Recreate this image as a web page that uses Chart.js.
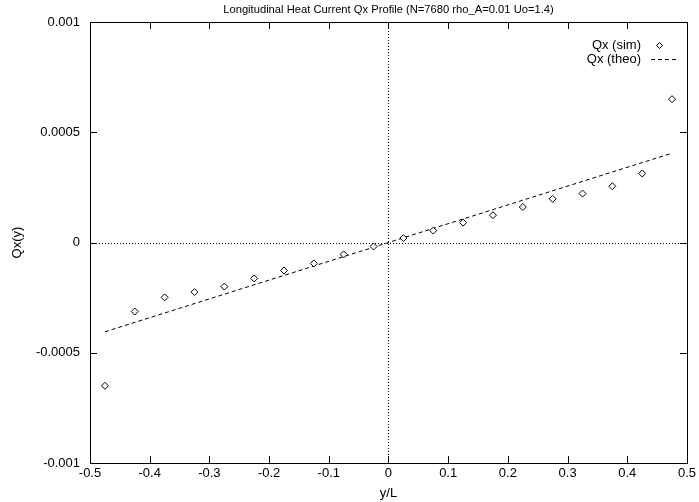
<!DOCTYPE html>
<html><head><meta charset="utf-8">
<script src="https://cdn.jsdelivr.net/npm/chart.js@4/dist/chart.umd.min.js"></script>
<style>html,body{margin:0;padding:0;background:#fff}#c{display:block}</style>
</head><body>
<canvas id="c" width="699" height="502"></canvas>
<script>
const titleText = "Longitudinal Heat Current Qx Profile (N=7680 rho_A=0.01 Uo=1.4)";
const xLabel = "y/L";
const yLabel = "Qx(y)";
const yPos = [-0.475,-0.425,-0.375,-0.325,-0.275,-0.225,-0.175,-0.125,-0.075,-0.025,0.025,0.075,0.125,0.175,0.225,0.275,0.325,0.375,0.425,0.475];
const qxSim = [-0.000650,-0.000313,-0.000249,-0.000225,-0.000200,-0.000163,-0.000127,-0.000095,-0.000054,-0.000018,0.000020,0.000054,0.000090,0.000124,0.000161,0.000198,0.000222,0.000255,0.000313,0.000650];
const theoX = [-0.475,0,0.475];
const qxTheo = [-0.000405,0.0,0.000405];
const xTicks = [-0.5,-0.4,-0.3,-0.2,-0.1,0,0.1,0.2,0.3,0.4,0.5];
const yTicks = [-0.001,-0.0005,0,0.0005,0.001];
const FONT = "'Liberation Sans', Arial, sans-serif";

function fmt(v){ const r = Math.round(v*1e6)/1e6; if (Math.abs(r)<1e-12) return "0"; return String(r); }

const deco = {
  id:'deco',
  beforeDatasetsDraw(chart){
    const {ctx, chartArea:a, scales:{x,y}} = chart;
    ctx.save();
    ctx.strokeStyle='#000'; ctx.lineWidth=1; ctx.setLineDash([1,2]);
    const y0 = Math.round(y.getPixelForValue(0))+0.5;
    const x0 = Math.round(x.getPixelForValue(0))+0.5;
    ctx.beginPath(); ctx.moveTo(a.left,y0); ctx.lineTo(a.right,y0); ctx.stroke();
    ctx.beginPath(); ctx.moveTo(x0,a.top); ctx.lineTo(x0,a.bottom); ctx.stroke();
    ctx.setLineDash([]);
    const L=7;
    ctx.beginPath();
    xTicks.forEach(t=>{ const px=Math.round(x.getPixelForValue(t))+0.5;
      ctx.moveTo(px,a.bottom); ctx.lineTo(px,a.bottom-L);
      ctx.moveTo(px,a.top); ctx.lineTo(px,a.top+L); });
    yTicks.forEach(t=>{ const py=Math.round(y.getPixelForValue(t))+0.5;
      ctx.moveTo(a.left,py); ctx.lineTo(a.left+L,py);
      ctx.moveTo(a.right,py); ctx.lineTo(a.right-L,py); });
    ctx.stroke();
    ctx.strokeRect(Math.round(a.left)+0.5, Math.round(a.top)+0.5, Math.round(a.right-a.left), Math.round(a.bottom-a.top));
    ctx.restore();
  },
  afterDraw(chart){
    const {ctx, chartArea:a} = chart;
    ctx.save();
    ctx.fillStyle='#000';
    ctx.font = "11.2px "+FONT;
    ctx.textAlign='center'; ctx.textBaseline='middle';
    ctx.fillText(titleText, (a.left+a.right)/2, 10);
    ctx.font = "13px "+FONT;
    ctx.fillText(xLabel, (a.left+a.right)/2, 493);
    ctx.save(); ctx.translate(17,(a.top+a.bottom)/2); ctx.rotate(-Math.PI/2); ctx.fillText(yLabel,0,0); ctx.restore();
    ctx.textAlign='right';
    ctx.fillText("Qx (sim)", 641, 45);
    ctx.fillText("Qx (theo)", 641, 59);
    ctx.strokeStyle='#000'; ctx.lineWidth=1;
    ctx.beginPath(); const cx=659.5, cy=45.5, r=3;
    ctx.moveTo(cx,cy-r); ctx.lineTo(cx+r,cy); ctx.lineTo(cx,cy+r); ctx.lineTo(cx-r,cy); ctx.closePath(); ctx.stroke();
    ctx.setLineDash([4,3]);
    ctx.beginPath(); ctx.moveTo(651,59.5); ctx.lineTo(677,59.5); ctx.stroke();
    ctx.restore();
  }
};

new Chart(document.getElementById('c'), {
  type:'scatter',
  data:{ datasets:[
    { label:'Qx (sim)', data: yPos.map((v,i)=>({x:v,y:qxSim[i]})), showLine:false,
      pointStyle:'rectRot', pointRadius:3.5, borderColor:'#000', backgroundColor:'#fff', borderWidth:1 },
    { label:'Qx (theo)', data: theoX.map((v,i)=>({x:v,y:qxTheo[i]})), showLine:true,
      pointRadius:0, borderColor:'#000', borderWidth:1, borderDash:[4,3], fill:false }
  ]},
  options:{
    responsive:false, animation:false, devicePixelRatio:1,
    layout:{ padding:{ top:22, right:12, left:0, bottom:0 } },
    plugins:{ legend:{display:false}, title:{display:false}, tooltip:{enabled:false} },
    scales:{
      x:{ type:'linear', min:-0.5, max:0.5,
        afterBuildTicks(s){ s.ticks = xTicks.map(v=>({value:v})); },
        afterFit(s){ s.height = 39; },
        grid:{ display:false, drawTicks:false }, border:{ display:false },
        ticks:{ callback:fmt, color:'#000', font:{family:FONT, size:13}, padding:3, maxRotation:0, autoSkip:false } },
      y:{ type:'linear', min:-0.001, max:0.001,
        afterBuildTicks(s){ s.ticks = yTicks.map(v=>({value:v})); },
        afterFit(s){ s.width = 90; },
        grid:{ display:false, drawTicks:false }, border:{ display:false },
        ticks:{ callback:fmt, color:'#000', font:{family:FONT, size:13}, padding:10, autoSkip:false } }
    }
  },
  plugins:[deco]
});
</script>
</body></html>
